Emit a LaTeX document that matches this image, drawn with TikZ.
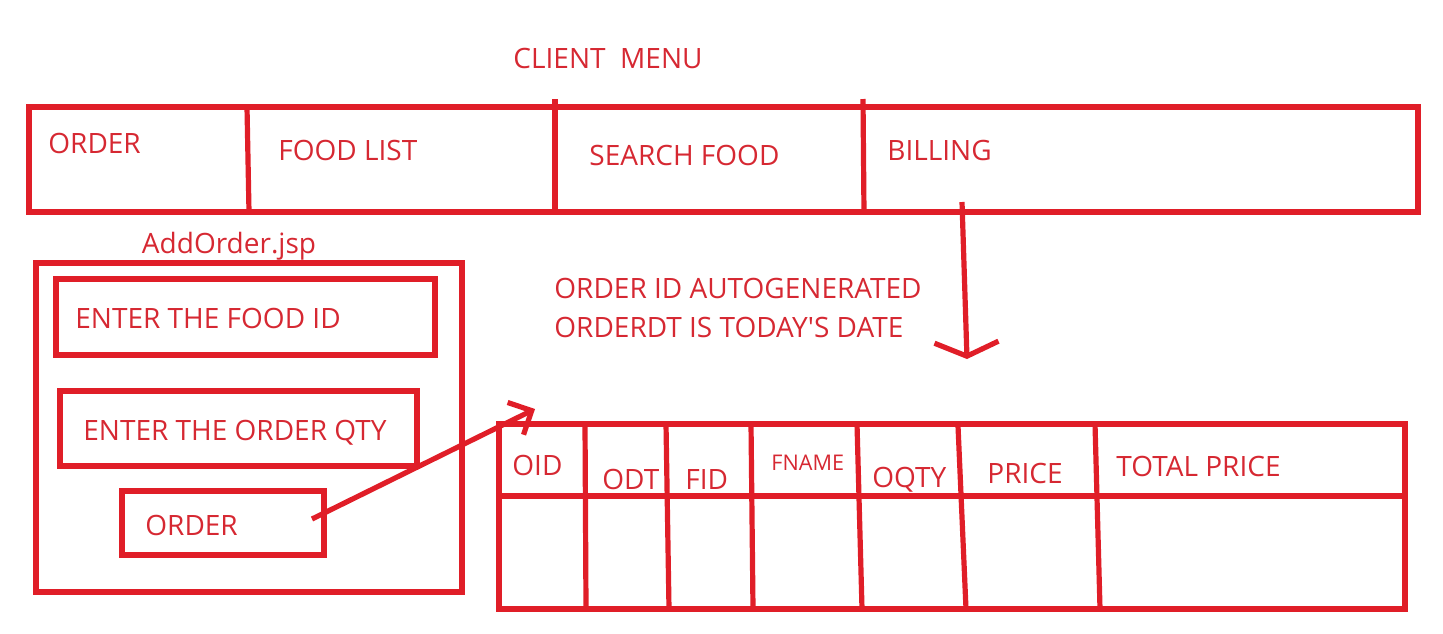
\documentclass[tikz,border=0pt]{standalone}
\usepackage{fontspec}
\setmainfont{Open Sans}
\newfontfamily\nolig{Open Sans}
\usetikzlibrary{arrows.meta}
\definecolor{pen}{RGB}{224,30,40}
\definecolor{ink}{RGB}{214,40,50}
\begin{document}
\begin{tikzpicture}[x=0.5pt,y=-0.5pt,
  line/.style={draw=pen,line width=2.6pt},
  lbl/.style={text=ink,font=\fontsize{14}{16}\selectfont,inner sep=0pt,anchor=west},
  small/.style={text=ink,font=\fontsize{10.8}{12}\selectfont,inner sep=0pt,anchor=west}]
\useasboundingbox (0,0) rectangle (1443,633);
% top menu
\node[lbl,anchor=center] (title) at (608,58) {CLIENT\ \ MENU};
\draw[line] (29,107) rectangle (1418,212);
\draw[line] (247,107) -- (249,212);
\draw[line] (555,99) -- (555,212);
\draw[line] (863,99) -- (864,214);
\node[lbl] (mOrder) at (48,143) {ORDER};
\node[lbl] (mFood) at (278,150) {FOOD LIST};
\node[lbl] (mSearch) at (589,155) {SEARCH FOOD};
\node[lbl] (mBill) at (887,150) {BILLING};
% add order form
\node[lbl,anchor=center] (jsp) at (229,246) {AddOrder.jsp};
\draw[line] (36,263) rectangle (462,592);
\draw[line] (56,279) rectangle (435,355);
\node[lbl] (fid) at (75,318) {ENTER THE FOOD ID};
\draw[line] (60,391) rectangle (417,466);
\node[lbl] (qty) at (83,433) {ENTER THE ORDER QTY};
\draw[line] (122,491) rectangle (324,555);
\node[lbl] (obtn) at (145,525) {ORDER};
% notes
\node[lbl] (n1) at (554,288) {ORDER ID AUTOGENERATED};
\node[lbl] (n2) at (554,327) {ORDERDT IS TODAY{\nolig'}S DATE};
% table
\draw[line] (499,424) rectangle (1405,609);
\draw[line] (499,496) -- (1405,496);
\draw[line] (585,424) -- (586,609);
\draw[line] (666,424) -- (669,609);
\draw[line] (751,424) -- (753,609);
\draw[line] (857,424) -- (862,609);
\draw[line] (958,426) -- (966,609);
\draw[line] (1095,424) -- (1100,609);
\node[lbl] (hOID) at (512,465) {OID};
\node[lbl] (hODT) at (602,479) {ODT};
\node[lbl] (hFID) at (685,479) {FID};
\node[small] (hFN) at (771,463) {FNAME};
\node[lbl] (hOQ) at (872,480) {OQTY};
\node[lbl] (hPR) at (987,473) {PRICE};
\node[lbl] (hTP) at (1116,466) {TOTAL PRICE};
% arrows
\coordinate (a1s) at (312,519);
\coordinate (a1e) at (535,409);
\draw[line,-{Straight Barb[length=9pt,width=18pt,line width=2.6pt]}] (a1s) -- (a1e);
\coordinate (a2s) at (962,202);
\coordinate (a2e) at (967,359);
\draw[line,-{Straight Barb[length=7pt,width=32pt,line width=2.6pt]}] (a2s) -- (a2e);
\end{tikzpicture}
\end{document}
